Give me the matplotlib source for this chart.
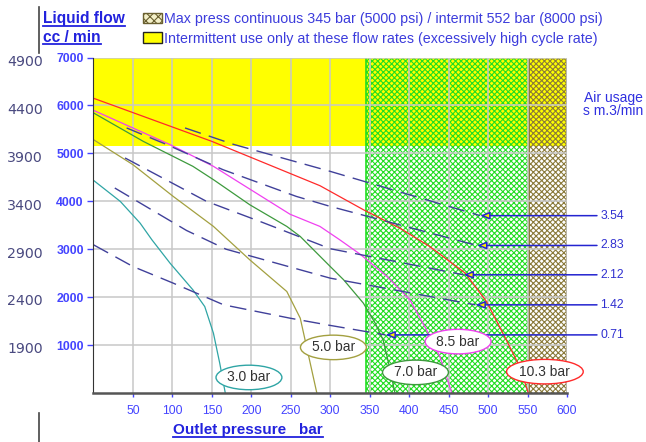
import matplotlib
matplotlib.use('agg')
import matplotlib.pyplot as plt
from matplotlib.patches import Rectangle
from matplotlib.lines import Line2D

plt.rcParams['font.family'] = ['Liberation Sans', 'DejaVu Sans']
plt.rcParams['hatch.linewidth'] = 0.8

# pump curves: outlet pressure (bar) vs liquid flow (cc/min)
p_103 = [0, 150, 287, 342, 388, 426, 471, 498, 521, 540, 551]
q_103 = [6150, 5250, 4325, 3824, 3441, 3057, 2501, 1908, 1176, 550, 0]
p_85 = [0, 97, 152, 249, 287, 312, 338, 372, 401, 422, 439, 454]
q_85 = [5898, 5182, 4729, 3730, 3475, 3197, 2894, 2430, 1943, 1316, 758, 0]
p_70 = [0, 63, 126, 152, 198, 245, 262, 300, 317, 342, 357, 367, 374, 382]
q_70 = [5844, 5251, 4729, 4451, 3928, 3475, 3266, 2639, 2361, 1874, 1456, 1107, 620, 0]
p_50 = [0, 50, 101, 152, 198, 245, 262, 270, 283]
q_50 = [5286, 4764, 4102, 3476, 2779, 2117, 1561, 967, 0]
p_30 = [0, 34, 59, 74, 97, 126, 141, 152, 160, 167]
q_30 = [4437, 3997, 3546, 3197, 2709, 2152, 1803, 1247, 620, 0]

# air usage lines (s m.3/min)
air_labels = ['3.54', '2.83', '2.12', '1.42', '0.71']
air_p = [[116, 177, 300, 490],
         [42, 93, 164, 257, 300, 486],
         [40, 143, 214, 300, 469],
         [27, 118, 168, 300, 484],
         [0, 50, 101, 165, 249, 296, 370]]
air_q = [[5530, 5190, 4624, 3700],
         [5530, 5182, 4660, 4102, 3893, 3078],
         [4904, 4000, 3560, 3010, 2466],
         [4277, 3390, 3000, 2396, 1839],
         [3092, 2639, 2292, 1839, 1561, 1421, 1212]]

y_ticks = [1000, 2000, 3000, 4000, 5000, 6000, 7000]
y_alt = [1900, 2400, 2900, 3400, 3900, 4400, 4900]
x_ticks = [50, 100, 150, 200, 250, 300, 350, 400, 450, 500, 550, 600]

curves = [(p_30, q_30, '#2fa5a5', '3.0 bar', 197, 324),
          (p_50, q_50, '#a3a040', '5.0 bar', 304, 951),
          (p_70, q_70, '#3d9a3d', '7.0 bar', 408, 430),
          (p_85, q_85, '#f040f0', '8.5 bar', 462, 1072),
          (p_103, q_103, '#ff2a2a', '10.3 bar', 572, 445)]

fig = plt.figure(figsize=(6.46, 4.42), dpi=100)
ax = fig.add_axes([0.1447, 0.1109, 0.7330, 0.7590])
ax.set_xlim(0, 600)
ax.set_ylim(0, 7000)

# zones
ax.axhspan(5150, 7000, color='#ffff00', lw=0, zorder=0.8)
ax.add_patch(Rectangle((345, 0), 207, 7000, fc='none', ec='#22dd22',
                       hatch='xxxxxx', lw=0, zorder=1))
ax.axvline(345, color='#22dd22', lw=1.2, zorder=1.1)
ax.add_patch(Rectangle((552, 0), 48, 7000, fc='none', ec='#8a7a3a',
                       hatch='xxxxxx', lw=0, zorder=1))
ax.axvline(552, color='#8a7a3a', lw=1.4, zorder=1.1)
ax.axvline(600, color='#8a7a3a', lw=1.4, zorder=1.1)

ax.set_axisbelow('line')
ax.grid(True, color='#c8c8c8', lw=1.1)
ax.set_xticks(x_ticks)
ax.set_yticks(y_ticks)
ax.tick_params(axis='x', colors='#4444ff', length=3, width=1, pad=6, labelsize=8.8)
ax.tick_params(axis='y', colors='#4444ff', length=4, width=1, pad=3, labelsize=8.8)
for lab in ax.get_yticklabels():
    lab.set_fontweight('bold')
for s in ['top', 'right']:
    ax.spines[s].set_visible(False)
ax.spines['left'].set_color('#333333')
ax.spines['bottom'].set_color('#555555')
ax.spines['bottom'].set_linewidth(1.8)

for v, a in zip(y_ticks, y_alt):
    ax.text(-0.107, v - 90, str(a), transform=ax.get_yaxis_transform(),
            ha='right', va='center', fontsize=10.2, color='#4a4a80',
            family='DejaVu Sans')

for p, q, c, lab, lx, ly in curves:
    ax.plot(p, q, color=c, lw=0.9, zorder=2)
    ax.text(lx, ly, lab, ha='center', va='center', fontsize=10, color='#333333',
            zorder=5, bbox=dict(boxstyle='ellipse,pad=0.12', fc='white', ec=c, lw=1))

for p, q, lab in zip(air_p, air_q, air_labels):
    ax.plot(p, q, color='#40409a', lw=1.0, dashes=(12, 6), zorder=2.2)
    ax.annotate('', xy=(p[-1], q[-1]), xytext=(638, q[-1]), annotation_clip=False,
                arrowprops=dict(arrowstyle='-|>,head_length=0.55,head_width=0.22',
                                fc='#ffee00', ec='#2424d0', lw=1.1,
                                shrinkA=0, shrinkB=0), zorder=3)
    ax.text(642, q[-1], lab, ha='left', va='center', fontsize=8.8,
            color='#3030d0', clip_on=False)

ax.text(1.16, 0.86, 'Air usage\ns m.3/min', transform=ax.transAxes, ha='right',
        va='center', fontsize=10, color='#3030e0', linespacing=0.95)

# header legend
blue = '#2222dd'
t1 = fig.text(43 / 646, 1 - 18.5 / 442, 'Liquid flow', fontsize=11.2,
              fontweight='bold', color=blue, va='center')
t2 = fig.text(43 / 646, 1 - 37 / 442, 'cc / min', fontsize=11.2,
              fontweight='bold', color=blue, va='center')
t3 = fig.text(248 / 646, 1 - 430 / 442, 'Outlet pressure   bar', fontsize=11,
              fontweight='bold', color=blue, va='center', ha='center')
fig.patches.append(Rectangle((142.7 / 646, 1 - 22.7 / 442), 19 / 646, 10 / 442,
                             transform=fig.transFigure, fc='#f4f0c8',
                             ec='#6a6030', hatch='xxxx', lw=1))
fig.patches.append(Rectangle((142.7 / 646, 1 - 43.3 / 442), 19 / 646, 11.6 / 442,
                             transform=fig.transFigure, fc='#ffff00',
                             ec='#222222', lw=1))
fig.text(164 / 646, 1 - 19 / 442,
         'Max press continuous 345 bar (5000 psi) / intermit 552 bar (8000 psi)',
         fontsize=10.3, color='#3c3cdc', va='center')
fig.text(164 / 646, 1 - 39 / 442,
         'Intermittent use only at these flow rates (excessively high cycle rate)',
         fontsize=10.3, color='#3c3cdc', va='center')

fig.add_artist(Line2D([39 / 646, 39 / 646], [1 - 7 / 442, 1 - 53 / 442],
                      color='#444444', lw=1.2))
fig.add_artist(Line2D([39 / 646, 39 / 646], [1 - 413 / 442, 0],
                      color='#444444', lw=1.2))

fig.canvas.draw()
r = fig.canvas.get_renderer()
for t in [t1, t2, t3]:
    bb = t.get_window_extent(r).transformed(fig.transFigure.inverted())
    fig.add_artist(Line2D([bb.x0, bb.x1], [bb.y0 + 0.001, bb.y0 + 0.001],
                          color=blue, lw=1.3))

plt.savefig('out.png', dpi=100)
